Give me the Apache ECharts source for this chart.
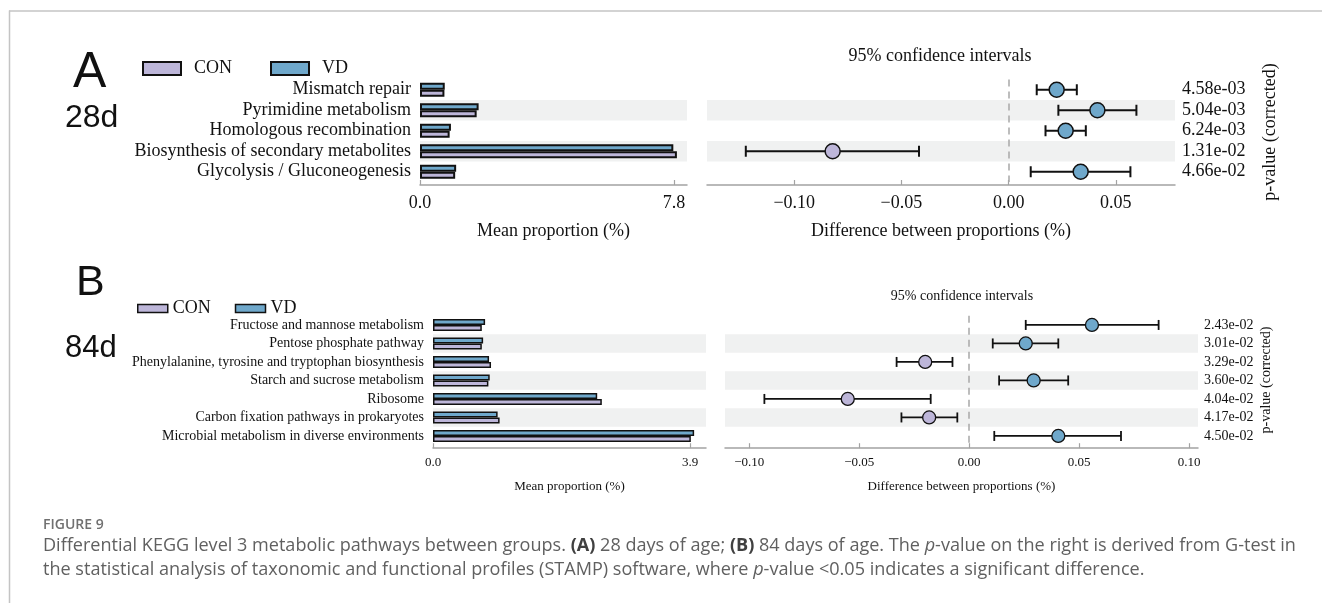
<!DOCTYPE html>
<html><head><meta charset="utf-8">
<script src="https://cdn.jsdelivr.net/npm/echarts@6/dist/echarts.min.js"></script>
<style>html,body{margin:0;padding:0;background:#fff}#c{width:1322px;height:603px}</style>
</head><body><div id="c"></div>
<script>
// ---------- DATA ----------
const catsA = ['Mismatch repair','Pyrimidine metabolism','Homologous recombination','Biosynthesis of secondary metabolites','Glycolysis / Gluconeogenesis'];
const conA = [0.75, 1.74, 0.91, 7.89, 1.08];
const vdA  = [0.76, 1.80, 0.95, 7.78, 1.11];
const diffA = [0.0224, 0.0414, 0.0266, -0.0821, 0.0336];
const loA   = [0.0131, 0.0232, 0.0172, -0.1226, 0.0103];
const hiA   = [0.0318, 0.0596, 0.0360, -0.0418, 0.0568];
const pA = ['4.58e-03','5.04e-03','6.24e-03','1.31e-02','4.66e-02'];
const meanTicksA = [0, 7.8];
const diffTicksA = [-0.10, -0.05, 0, 0.05];

const catsB = ['Fructose and mannose metabolism','Pentose phosphate pathway','Phenylalanine, tyrosine and tryptophan biosynthesis','Starch and sucrose metabolism','Ribosome','Carbon fixation pathways in prokaryotes','Microbial metabolism in diverse environments'];
const conB = [0.74, 0.74, 0.88, 0.84, 2.56, 1.01, 3.91];
const vdB  = [0.79, 0.76, 0.85, 0.86, 2.49, 0.98, 3.96];
const diffB = [0.0558, 0.0257, -0.0200, 0.0293, -0.0552, -0.0182, 0.0405];
const loB   = [0.0257, 0.0107, -0.0330, 0.0136, -0.0931, -0.0308, 0.0114];
const hiB   = [0.0861, 0.0405, -0.0076, 0.0450, -0.0175, -0.0054, 0.0690];
const pB = ['2.43e-02','3.01e-02','3.29e-02','3.60e-02','4.04e-02','4.17e-02','4.50e-02'];
const meanTicksB = [0, 3.9];
const diffTicksB = [-0.10, -0.05, 0, 0.05, 0.10];

const captionTitle = 'FIGURE 9';
const captionLine1 = 'Differential KEGG level 3 metabolic pathways between groups. {b|(A)} 28 days of age; {b|(B)} 84 days of age. The {i|p}-value on the right is derived from G-test in';
const captionLine2 = 'the statistical analysis of taxonomic and functional profiles (STAMP) software, where {i|p}-value <0.05 indicates a significant difference.';

// ---------- STYLE ----------
const SERIF = '"Liberation Serif", "Times New Roman", serif';
const SANS = '"Liberation Sans", Arial, sans-serif';
const CAPF = '"Open Sans", Lato, "Noto Sans", sans-serif';
const CON_C = '#bdb6d9', VD_C = '#6fa8cb', BAND = '#f0f1f1', INK = '#111';
const AXC = '#a3a3a3';

// fit caption font size to the reference line width
let capFs = 17;
try {
  const ctx = document.createElement('canvas').getContext('2d');
  ctx.font = '17px ' + CAPF;
  const w = ctx.measureText(captionLine1.replace(/\{[bi]\|([^}]*)\}/g, '$1')).width;
  if (w > 0) capFs = Math.max(15, Math.min(19, 17 * 1250 / w));
} catch (e) {}

function fmtDiff(v){ return (v < -1e-9 ? '\u2212' : '') + Math.abs(v).toFixed(2); }
function errRender(capH, lw){
  return function(params, api){
    const y = api.value(2);
    const a = api.coord([api.value(0), y]);
    const b = api.coord([api.value(1), y]);
    const st = {stroke:INK, lineWidth:lw};
    return {type:'group', children:[
      {type:'line', shape:{x1:a[0], y1:a[1], x2:b[0], y2:b[1]}, style:st},
      {type:'line', shape:{x1:a[0], y1:a[1]-capH/2, x2:a[0], y2:a[1]+capH/2}, style:st},
      {type:'line', shape:{x1:b[0], y1:b[1]-capH/2, x2:b[0], y2:b[1]+capH/2}, style:st}
    ]};
  };
}
const bandArea = {show:true, interval:0, areaStyle:{color:['rgba(255,255,255,0)', BAND]}};

function catAxis(grid, cats, fs, show){
  return {type:'category', gridIndex:grid, data:cats, inverse:true,
    axisLine:{show:false}, axisTick:{show:false},
    axisLabel:{show:show, interval:0, fontFamily:SERIF, fontSize:fs, color:INK, margin:9},
    splitArea:bandArea, splitLine:{show:false}};
}
function pAxis(grid, cats, labels, fs, margin){
  return {type:'category', gridIndex:grid, data:cats, inverse:true, position:'right',
    axisLine:{show:false}, axisTick:{show:false},
    axisLabel:{interval:0, fontFamily:SERIF, fontSize:fs, color:INK, margin:margin, align:'left',
      formatter:(v, i)=>labels[i]},
    splitArea:{show:false}, splitLine:{show:false}};
}
function valAxis(grid, min, max, ticks, fmt, fs, name, nameGap, offset, labMargin){
  return {type:'value', gridIndex:grid, min:min, max:max, offset:offset,
    axisLine:{show:true, lineStyle:{color:AXC, width:1.5}},
    axisTick:{show:true, inside:true, length:5, customValues:ticks, lineStyle:{color:AXC, width:1.2}},
    axisLabel:{customValues:ticks, formatter:fmt, fontFamily:SERIF, fontSize:fs, color:INK, margin:labMargin},
    splitLine:{show:false},
    name:name, nameLocation:'middle', nameGap:nameGap,
    nameTextStyle:{fontFamily:SERIF, fontSize:fs, color:INK}};
}

const option = {
  animation:false,
  grid:[
    {left:420, top:79.5, width:267, height:102.5},
    {left:707, top:79.5, width:468, height:102.5},
    {left:433, top:315.7, width:273, height:129.5},
    {left:725, top:315.7, width:473, height:129.5}
  ],
  xAxis:[
    valAxis(0, 0, 8.2, meanTicksA, v=>v.toFixed(1), 18, 'Mean proportion (%)', 37, 3, 9),
    valAxis(1, -0.1407, 0.0776, diffTicksA, fmtDiff, 18, 'Difference between proportions (%)', 37, 3, 9),
    valAxis(2, 0, 4.14, meanTicksB, v=>v.toFixed(1), 13, 'Mean proportion (%)', 32, 3, 8),
    valAxis(3, -0.111, 0.104, diffTicksB, fmtDiff, 13, 'Difference between proportions (%)', 32, 3, 8)
  ],
  yAxis:[
    catAxis(0, catsA, 18, true),
    catAxis(1, catsA, 18, false),
    pAxis(1, catsA, pA, 18, 7),
    catAxis(2, catsB, 14, true),
    catAxis(3, catsB, 14, false),
    pAxis(3, catsB, pB, 14, 6)
  ],
  legend:[
    {data:['CON','VD'], left:142, top:59.5, padding:0, itemWidth:38, itemHeight:13, itemGap:38, icon:'rect',
      itemStyle:{borderColor:INK, borderWidth:2},
      textStyle:{fontFamily:SERIF, fontSize:18, color:INK, padding:[0,0,0,8]}, selectedMode:false},
    {data:['CON','VD'], left:137, top:299.5, padding:0, itemWidth:30, itemHeight:8, itemGap:24, icon:'rect',
      itemStyle:{borderColor:INK, borderWidth:1.5},
      textStyle:{fontFamily:SERIF, fontSize:18, color:INK}, selectedMode:false}
  ],
  series:[
    {type:'bar', name:'VD', xAxisIndex:0, yAxisIndex:0, data:vdA, barWidth:7, barGap:'0%',
      itemStyle:{color:VD_C, borderColor:INK, borderWidth:2}},
    {type:'bar', name:'CON', xAxisIndex:0, yAxisIndex:0, data:conA, barWidth:7, barGap:'0%',
      itemStyle:{color:CON_C, borderColor:INK, borderWidth:2}},
    {type:'custom', xAxisIndex:1, yAxisIndex:1, renderItem:errRender(11, 2),
      encode:{x:[0,1], y:2}, data:loA.map((v,i)=>[v, hiA[i], i]), z:3},
    {type:'scatter', xAxisIndex:1, yAxisIndex:1, symbolSize:15, z:4,
      data:diffA.map((v,i)=>[v, i]),
      itemStyle:{color:p=>p.value[0] < 0 ? CON_C : VD_C, borderColor:INK, borderWidth:1.5, opacity:1},
      markLine:{silent:true, symbol:'none', label:{show:false},
        lineStyle:{type:[7,5], color:'#a8a8a8', width:1.5}, data:[{xAxis:0}]}},
    {type:'bar', name:'VD', xAxisIndex:2, yAxisIndex:3, data:vdB, barWidth:6, barGap:'0%',
      itemStyle:{color:VD_C, borderColor:INK, borderWidth:1.5}},
    {type:'bar', name:'CON', xAxisIndex:2, yAxisIndex:3, data:conB, barWidth:6, barGap:'0%',
      itemStyle:{color:CON_C, borderColor:INK, borderWidth:1.5}},
    {type:'custom', xAxisIndex:3, yAxisIndex:4, renderItem:errRender(10, 1.8),
      encode:{x:[0,1], y:2}, data:loB.map((v,i)=>[v, hiB[i], i]), z:3},
    {type:'scatter', xAxisIndex:3, yAxisIndex:4, symbolSize:13, z:4,
      data:diffB.map((v,i)=>[v, i]),
      itemStyle:{color:p=>p.value[0] < 0 ? CON_C : VD_C, borderColor:INK, borderWidth:1.3, opacity:1},
      markLine:{silent:true, symbol:'none', label:{show:false},
        lineStyle:{type:[7,5], color:'#a8a8a8', width:1.5}, data:[{xAxis:0}]}}
  ],
  graphic:[
    {type:'line', shape:{x1:9, y1:11, x2:1322, y2:11}, style:{stroke:'#c4c4c4', lineWidth:1.5}},
    {type:'line', shape:{x1:9.5, y1:10.5, x2:9.5, y2:603}, style:{stroke:'#c4c4c4', lineWidth:1.5}},
    {type:'text', x:73, y:73, style:{text:'A', font:'50px ' + SANS, fill:INK, verticalAlign:'middle'}},
    {type:'text', x:65, y:118, style:{text:'28d', font:'32px ' + SANS, fill:INK, verticalAlign:'middle'}},
    {type:'text', x:76, y:283, style:{text:'B', font:'43px ' + SANS, fill:INK, verticalAlign:'middle'}},
    {type:'text', x:65, y:348, style:{text:'84d', font:'31px ' + SANS, fill:INK, verticalAlign:'middle'}},
    {type:'text', x:940, y:56, style:{text:'95% confidence intervals', font:'18px ' + SERIF, fill:INK, align:'center', verticalAlign:'middle'}},
    {type:'text', x:962, y:296, style:{text:'95% confidence intervals', font:'14px ' + SERIF, fill:INK, align:'center', verticalAlign:'middle'}},
    {type:'text', x:1270, y:132, rotation:Math.PI/2, style:{text:'p-value (corrected)', font:'18px ' + SERIF, fill:INK, align:'center', verticalAlign:'middle'}},
    {type:'text', x:1266, y:380, rotation:Math.PI/2, style:{text:'p-value (corrected)', font:'14px ' + SERIF, fill:INK, align:'center', verticalAlign:'middle'}},
    {type:'text', x:43, y:525, style:{text:captionTitle, font:'600 14px ' + CAPF, fill:'#707070', verticalAlign:'middle'}},
    {type:'text', x:43, y:558, style:{
      text:captionLine1 + '\n' + captionLine2,
      fontFamily:CAPF, fontSize:capFs, fill:'#606060', lineHeight:24, verticalAlign:'middle',
      rich:{b:{fontFamily:CAPF, fontSize:capFs, fontWeight:'bold', fill:'#404040', lineHeight:24},
            i:{fontFamily:CAPF, fontSize:capFs, fontStyle:'italic', fill:'#606060', lineHeight:24}}}}
  ]
};
const chart = echarts.init(document.getElementById('c'), null, {renderer:'canvas'});
chart.setOption(option);
</script></body></html>
